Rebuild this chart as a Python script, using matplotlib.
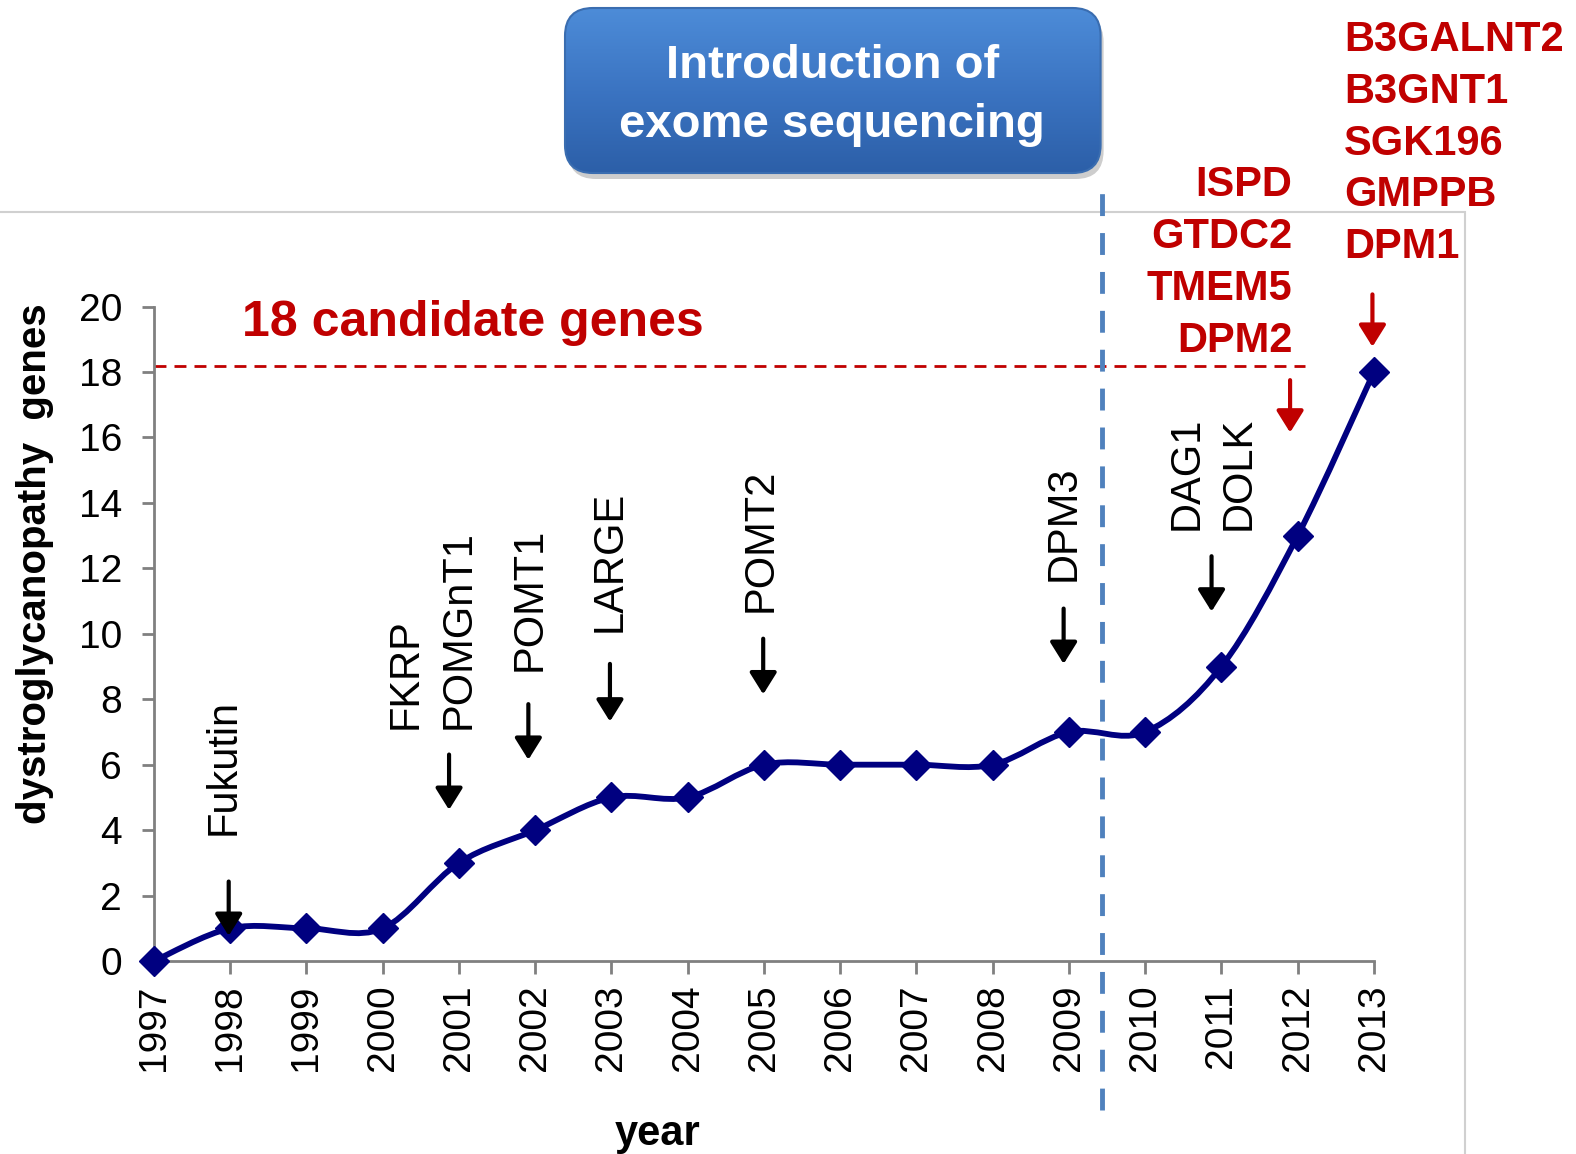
import numpy as np
import matplotlib
matplotlib.use("Agg")
import matplotlib.pyplot as plt
from matplotlib.path import Path
from matplotlib.patches import PathPatch, FancyBboxPatch, Rectangle
from matplotlib.colors import LinearSegmentedColormap

plt.rcParams['font.family'] = ['Liberation Sans', 'DejaVu Sans']

# ---------------- data ----------------
years = [1997, 1998, 1999, 2000, 2001, 2002, 2003, 2004, 2005,
         2006, 2007, 2008, 2009, 2010, 2011, 2012, 2013]
gene_counts = [0, 1, 1, 1, 3, 4, 5, 5, 6, 6, 6, 6, 7, 7, 9, 13, 18]
y_ticks = [0, 2, 4, 6, 8, 10, 12, 14, 16, 18, 20]

# black gene labels (text, x, bottom-y) and arrows (x, tail-y, tip-y)
black_labels = [("Fukutin", 1997.92, 3.85), ("FKRP", 2000.30, 7.08),
                ("POMGnT1", 2001.00, 7.08), ("POMT1", 2001.93, 8.86),
                ("LARGE", 2002.98, 10.06), ("POMT2", 2004.95, 10.68),
                ("DPM3", 2008.93, 11.60), ("DAG1", 2010.54, 13.17),
                ("DOLK", 2011.23, 13.17)]
black_arrows = [(1997.98, 2.43, 0.77), (2000.87, 6.31, 4.62),
                (2001.91, 7.85, 6.15), (2002.98, 9.08, 7.32),
                (2004.99, 9.85, 8.15), (2008.93, 10.77, 9.08),
                (2010.87, 12.37, 10.68)]
red_genes_2012 = ["ISPD", "GTDC2", "TMEM5", "DPM2"]
red_genes_2013 = ["B3GALNT2", "B3GNT1", "SGK196", "GMPPB", "DPM1"]
red_arrows = [(2011.90, 17.75, 16.15), (2012.98, 20.37, 18.77)]
candidate_level = 18.17
exome_year = 2009.43

RED = '#C00000'
NAVY = '#000080'

fig = plt.figure(figsize=(15.76, 11.54), dpi=100)

# outer light gray chart border
fig.patches.append(Rectangle((-0.01, -0.01), 0.9396, 0.8263, transform=fig.transFigure,
                             fill=False, edgecolor='#D0D0D0', lw=1.5, zorder=-2))

ax = fig.add_axes([0.0977, 0.1672, 0.7741, 0.5672])
ax.set_xlim(1997, 2013)
ax.set_ylim(0, 20)

# smoothed line (Catmull-Rom -> cubic Bezier, drawn through the data transform)
pts = np.column_stack([years, gene_counts]).astype(float)
ext = np.vstack([pts[0], pts, pts[-1]])
verts = [tuple(pts[0])]
codes = [Path.MOVETO]
for i in range(len(pts) - 1):
    p0, p1, p2, p3 = ext[i], ext[i + 1], ext[i + 2], ext[i + 3]
    c1 = p1 + (p2 - p0) / 6.0
    c2 = p2 - (p3 - p1) / 6.0
    verts += [tuple(c1), tuple(c2), tuple(p2)]
    codes += [Path.CURVE4] * 3
ax.add_patch(PathPatch(Path(verts, codes), fill=False, edgecolor=NAVY, lw=4.2,
                       transform=ax.transData, zorder=3, clip_on=False))
ax.plot(years, gene_counts, linestyle='none', marker='D', ms=15, color=NAVY,
        mec=NAVY, zorder=4, clip_on=False)

# axes styling
for s in ['top', 'right']:
    ax.spines[s].set_visible(False)
for s in ['left', 'bottom']:
    ax.spines[s].set_color('#808080')
    ax.spines[s].set_linewidth(2)
ax.set_xticks(years)
ax.set_xticklabels([str(y) for y in years], rotation=90, fontsize=28)
ax.set_yticks(y_ticks)
ax.set_yticklabels([str(v) for v in y_ticks], fontsize=28)
ax.tick_params(axis='x', direction='out', length=9, width=2, color='#808080', pad=8)
ax.tick_params(axis='y', direction='out', length=9, width=2, color='#808080', pad=14)

ax.set_ylabel("dystroglycanopathy  genes", fontsize=29, fontweight='bold')
ax.yaxis.set_label_coords(-0.0975, 0.607)
ax.yaxis.label.set_va('center')
ax.set_xlabel("year", fontsize=30, fontweight='bold')
ax.xaxis.set_label_coords(0.413, -0.264)
ax.xaxis.label.set_va('center')

# candidate genes line
ax.plot([1997, 2012.1], [candidate_level, candidate_level], color=RED, lw=2,
        dashes=(4.3, 2.9), zorder=2, clip_on=False)
ax.text(1998.15, 19.5, "18 candidate genes", color=RED, fontsize=36,
        fontweight='bold', ha='left', va='center')

# exome line
ax.plot([exome_year, exome_year], [-4.54, 23.93], color='#4F81BD', lw=3.5,
        dashes=(4.5, 3.5), zorder=2, clip_on=False)

# black labels & arrows
for txt, x, y in black_labels:
    ax.text(x, y, txt, rotation=90, ha='center', va='bottom', fontsize=30)
for x, y0, y1 in black_arrows:
    ax.annotate('', xy=(x, y1), xytext=(x, y0),
                arrowprops=dict(arrowstyle='-|>,head_length=0.4,head_width=0.25',
                                lw=3.0, color='black', mutation_scale=33,
                                shrinkA=0, shrinkB=0), zorder=5)
for x, y0, y1 in red_arrows:
    ax.annotate('', xy=(x, y1), xytext=(x, y0), annotation_clip=False,
                arrowprops=dict(arrowstyle='-|>,head_length=0.4,head_width=0.25',
                                lw=3.0, color=RED, mutation_scale=33,
                                shrinkA=0, shrinkB=0), zorder=5)

# red gene names
for i, g in enumerate(red_genes_2012):
    ax.text(2011.93, 23.70 - 1.585 * i, g, color=RED, fontsize=30,
            fontweight='bold', ha='right', va='center')
for i, g in enumerate(red_genes_2013):
    ax.text(2012.61, 28.15 - 1.585 * i, g, color=RED, fontsize=30,
            fontweight='bold', ha='left', va='center')

# "Introduction of exome sequencing" box
bx, by, bw, bh = 5.65, 9.81, 5.356, 1.65
shadow = FancyBboxPatch((bx + 0.03, by - 0.06), bw, bh,
                        boxstyle='round,pad=0,rounding_size=0.28',
                        transform=fig.dpi_scale_trans, facecolor='#909090',
                        edgecolor='none', alpha=0.45, zorder=-1)
fig.patches.append(shadow)
box_ax = fig.add_axes([bx / 15.76, by / 11.54, bw / 15.76, bh / 11.54])
box_ax.set_zorder(2)
box_ax.axis('off')
cmap = LinearSegmentedColormap.from_list('bl', ['#2C5FA8', '#3B74C2', '#4D8CD8'])
grad = np.linspace(0, 1, 256).reshape(-1, 1)
im = box_ax.imshow(grad, extent=[0, 1, 0, 1], aspect='auto', cmap=cmap,
                   origin='lower')
clip = FancyBboxPatch((bx, by), bw, bh, boxstyle='round,pad=0,rounding_size=0.28',
                      transform=fig.dpi_scale_trans, facecolor='none',
                      edgecolor='#3A6DB0', lw=1.5, zorder=3)
im.set_clip_path(clip)
fig.patches.append(clip)
fig.text(0.528, 0.9425, "Introduction of", color='white', fontsize=34,
         fontweight='bold', ha='center', va='center', zorder=5)
fig.text(0.528, 0.892, "exome sequencing", color='white', fontsize=34,
         fontweight='bold', ha='center', va='center', zorder=5)

fig.savefig("out.png", dpi=100)
